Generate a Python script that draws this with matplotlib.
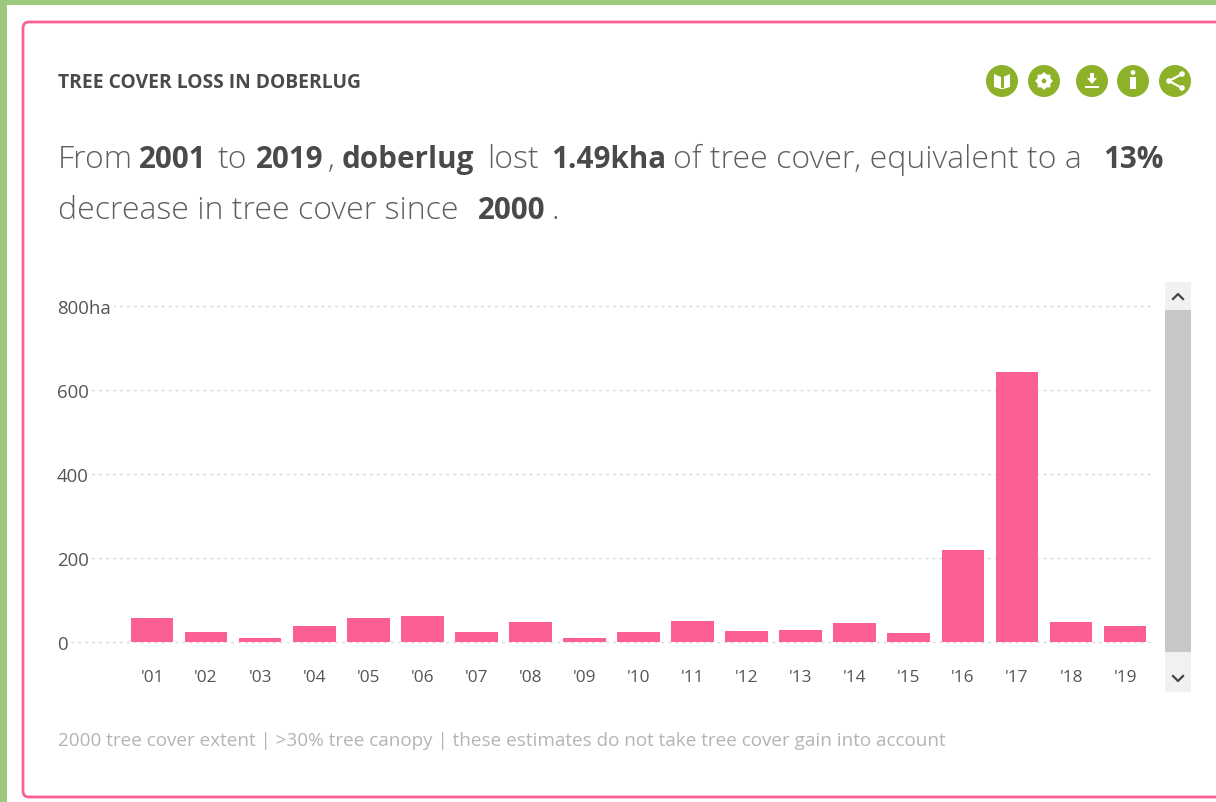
import matplotlib
matplotlib.use("Agg")
import matplotlib.pyplot as plt
from matplotlib.patches import Rectangle, FancyBboxPatch, Circle, Polygon, RegularPolygon

years = ["'01","'02","'03","'04","'05","'06","'07","'08","'09","'10","'11","'12","'13","'14","'15","'16","'17","'18","'19"]
loss = [58,25,9,37,58,61,25,47,9,23,51,27,28,46,21,218,644,47,37]
yticks = [0,200,400,600,800]
ylabels = ["0","200","400","600","800ha"]
W, H = 1216, 803
PINK = "#FB5F93"; GREEN = "#8DB22A"; DARK = "#4A4A4A"; BG = "#9DC97F"
FONT = "Open Sans"
plt.rcParams['font.family'] = [FONT, 'DejaVu Sans']

fig = plt.figure(figsize=(W/100, H/100), dpi=100, facecolor="white")
bg = fig.add_axes([0,0,1,1]); bg.set_xlim(0,W); bg.set_ylim(H,0); bg.axis("off")
bg.add_patch(Rectangle((0,0),W,5.5,color=BG,lw=0))
bg.add_patch(Rectangle((0,0),7,H,color=BG,lw=0))
bg.add_patch(FancyBboxPatch((23,23),W+40,775,boxstyle="round,pad=0,rounding_size=6",fc="white",ec=PINK,lw=2))

def seg(x,y,s,bold=False):
    if bold:
        bg.text(x,y,s,fontsize=21.3,color=DARK,weight="bold",va="baseline",ha="left")
    else:
        bg.text(x,y,s,fontsize=23.0,color="#5E5E5E",weight="light",va="baseline",ha="left")
bg.text(58,88,"TREE COVER LOSS IN DOBERLUG",fontsize=13.9,weight="bold",color=DARK,va="baseline")
for x,s,b in [(58,"From",0),(139,"2001",1),(218,"to",0),(256,"2019",1),(328,",",0),(342,"doberlug",1),
              (487,"lost",0),(551,"1.49kha",1),(673,"of tree cover, equivalent to a",0),(1103,"13%",1)]:
    seg(x,168,s,bool(b))
for x,s,b in [(58,"decrease in tree cover since",0),(478,"2000",1),(551,".",0)]:
    seg(x,219,s,bool(b))
bg.text(58,746,"2000 tree cover extent | >30% tree canopy | these estimates do not take tree cover gain into account",
        fontsize=13.6,color="#B4B4B4",va="baseline")

# icons
for cx in [1002,1044,1092,1133,1175]:
    bg.add_patch(Circle((cx,82),16,color=GREEN,lw=0))
bg.add_patch(Polygon([(994,75),(1001,78),(1003,78),(1010,75),(1010,88),(1003,90),(1001,90),(994,88)],fc="white",lw=0))
bg.add_patch(Rectangle((1000.5,77),3,12,color=GREEN,lw=0))
bg.add_patch(RegularPolygon((1044,82),4,radius=9,orientation=0,color="white",lw=0))
bg.add_patch(RegularPolygon((1044,82),4,radius=9,orientation=0.785,color="white",lw=0))
bg.add_patch(Circle((1044,82),2.4,color=GREEN,lw=0))
bg.add_patch(Polygon([(1087,79),(1090,79),(1090,74),(1094,74),(1094,79),(1097,79),(1092,85)],fc="white",lw=0))
bg.add_patch(Rectangle((1085,87),14,2,color="white",lw=0))
bg.add_patch(Circle((1133,73.5),2.4,color="white",lw=0)); bg.add_patch(Rectangle((1130,78),6,12,color="white",lw=0))
bg.plot([1182,1169,1182],[75,82,89],color="white",lw=1.6)
for p in [(1182,75),(1169,82),(1182,89)]:
    bg.add_patch(Circle(p,2.8,color="white",lw=0))

# scrollbar
bg.add_patch(Rectangle((1165,283),26,410,color="#F1F1F1",lw=0))
bg.add_patch(Rectangle((1165,311),26,342,color="#C8C8C8",lw=0))
bg.plot([1173,1178,1183],[300,295,300],color="#444444",lw=1.6)
bg.plot([1173,1178,1183],[677,682,677],color="#444444",lw=1.6)

# chart: axes spans px x 57..1152, y 290..662
L,R,T,B = 57,1152,290,662
ax = fig.add_axes([L/W,1-B/H,(R-L)/W,(B-T)/H]); ax.patch.set_alpha(0)
x = list(range(len(years)))
ax.bar(x,loss,width=0.79,color=PINK,zorder=3)
ax.set_xlim((L-152)/54.06,(R-152)/54.06)
ax.set_ylim((643-B)/0.42,(643-T)/0.42)
ax.set_yticks(yticks); ax.set_yticklabels(ylabels)
ax.set_xticks(x); ax.set_xticklabels(years)
ax.grid(axis="y",color="#D9D9D9",lw=1,ls=(0,(2,3)),zorder=1)
for s in ax.spines.values(): s.set_visible(False)
ax.tick_params(axis="y",length=0,pad=0,labelsize=13.4,labelcolor="#555555")
ax.tick_params(axis="x",length=0,pad=6,labelsize=12.4,labelcolor="#555555")
for t in ax.get_yticklabels():
    t.set_ha("left"); t.set_zorder(5)
    t.set_bbox(dict(fc="white",ec="none",pad=2))
fig.savefig("out.png",dpi=100)
